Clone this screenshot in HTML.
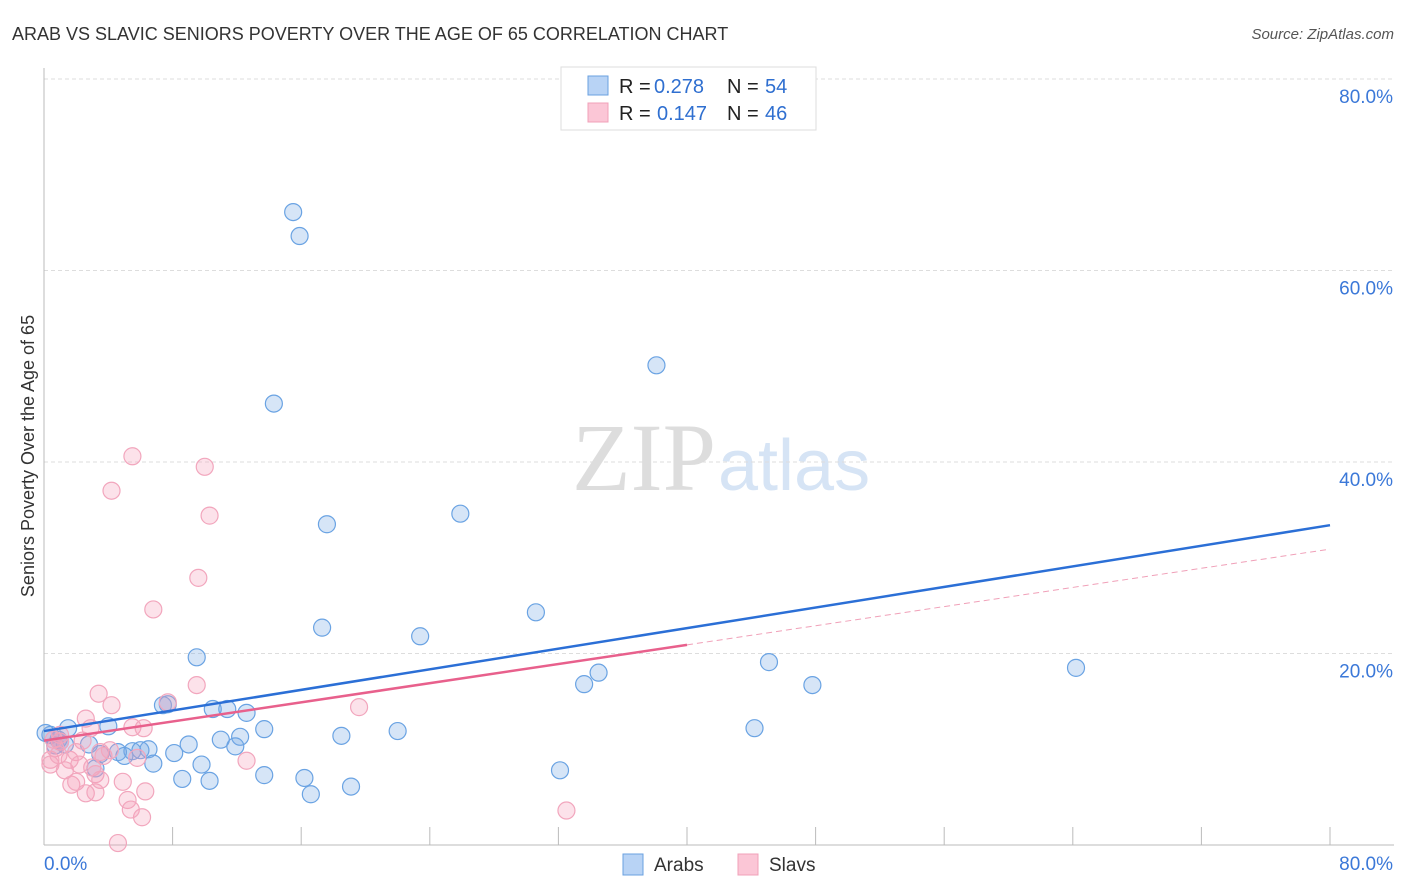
<!DOCTYPE html>
<html><head><meta charset="utf-8"><style>
body{margin:0;background:#fff;font-family:"Liberation Sans",sans-serif}
svg{display:block}
</style></head><body>
<svg id="c" width="1406" height="892" xmlns="http://www.w3.org/2000/svg">
<text x="12" y="40" font-size="18" fill="#333">ARAB VS SLAVIC SENIORS POVERTY OVER THE AGE OF 65 CORRELATION CHART</text>
<text x="1394" y="39" font-size="15" fill="#555" font-style="italic" text-anchor="end">Source: ZipAtlas.com</text>
<text x="716" y="490" font-size="96" fill="#ddd" text-anchor="end" font-family="Liberation Serif">ZIP</text>
<text x="718" y="490" font-size="72" fill="#d6e4f5">atlas</text>
<text transform="translate(34,456) rotate(-90)" font-size="18" fill="#333" text-anchor="middle">Seniors Poverty Over the Age of 65</text>
<g id="grid"></g><g id="pts"></g><g id="lines"></g>
<g>
<rect x="561" y="67" width="255" height="63" fill="#fff" stroke="#ddd"/>
<rect x="588" y="76" width="20" height="19" fill="#b8d3f5" stroke="#6aa0e0"/>
<rect x="588" y="103" width="20" height="19" fill="#fbc6d6" stroke="#f0a0b8"/>
<text x="619" y="93" font-size="20" fill="#222">R =</text>
<text x="654" y="93" font-size="20" fill="#2f6fd0">0.278</text>
<text x="727" y="93" font-size="20" fill="#222">N =</text>
<text x="765" y="93" font-size="20" fill="#2f6fd0">54</text>
<text x="619" y="120" font-size="20" fill="#222">R =</text>
<text x="657" y="120" font-size="20" fill="#2f6fd0">0.147</text>
<text x="727" y="120" font-size="20" fill="#222">N =</text>
<text x="765" y="120" font-size="20" fill="#2f6fd0">46</text>
</g>
<g>
<rect x="623" y="854" width="20" height="21" fill="#b8d3f5" stroke="#6aa0e0"/>
<text x="654" y="871" font-size="19" fill="#333">Arabs</text>
<rect x="738" y="854" width="20" height="21" fill="#fbc6d6" stroke="#f0a0b8"/>
<text x="769" y="871" font-size="19" fill="#333">Slavs</text>
</g>
</svg>
<script>
const xTicks=[0,8,16,24,32,40,48,56,64,72,80];
const yTicks=[20,40,60,80];
const yTickLabels=["20.0%","40.0%","60.0%","80.0%"];
const arabX=[15.5,15.9,14.3,38.1,17.6,25.9,30.6,17.3,23.4,9.5,45.1,64.2,34.5,33.6,47.8,7.4,7.7,10.5,11.4,12.6,13.7,4.0,1.5,44.2,22.0,18.5,12.2,11.0,9.0,11.9,2.8,0.9,0.4,0.7,6.5,5.5,4.6,3.5,5.0,8.1,6.8,9.8,3.2,13.7,16.2,8.6,10.3,32.1,19.1,16.6,1.0,0.1,1.3,6.0];
const arabY=[66.1,63.6,46.1,50.1,33.5,34.6,24.3,22.7,21.8,19.6,19.1,18.5,18.0,16.8,16.7,14.6,14.7,14.2,14.2,13.8,12.1,12.4,12.2,12.2,11.9,11.4,11.3,11.0,10.5,10.3,10.5,11.0,11.5,10.4,10.0,9.8,9.7,9.5,9.3,9.6,8.5,8.4,8.0,7.3,7.0,6.9,6.7,7.8,6.1,5.3,10.8,11.7,10.5,9.9];
const slavX=[5.5,10.0,4.2,10.3,9.6,6.8,9.5,7.7,3.4,4.2,2.6,19.6,5.5,6.2,12.6,2.4,1.0,0.7,0.4,0.4,1.6,2.0,3.5,3.7,5.8,0.9,1.3,3.0,1.7,2.0,3.2,2.6,3.2,3.5,4.9,5.2,6.1,6.3,5.4,4.6,32.5,1.0,0.6,2.9,2.2,4.1];
const slavY=[40.6,39.5,37.0,34.4,27.9,24.6,16.7,14.9,15.8,14.6,13.2,14.4,12.3,12.2,8.8,10.9,10.8,10.1,8.9,8.4,8.9,9.7,9.7,9.3,9.1,9.4,7.8,8.1,6.3,6.6,7.4,5.4,5.5,6.8,6.6,4.7,2.9,5.6,3.7,0.2,3.6,11.5,11.0,12.2,8.4,9.9];
const arabTrend=[11.9,33.4];
const slavTrend=[10.9,30.9];
const slavSolidEnd=40;
const NS="http://www.w3.org/2000/svg";
const sx=v=>44+v*16.075, sy=v=>845-v*9.575;
function mk(tag,attrs,parent){const e=document.createElementNS(NS,tag);for(const k in attrs)e.setAttribute(k,attrs[k]);parent.appendChild(e);return e;}
const grid=document.getElementById('grid');
yTicks.forEach((t,i)=>{
 const l=mk('line',{x1:44,x2:1394,y1:sy(t),y2:sy(t),stroke:'#ddd','stroke-dasharray':'4,3'},grid);
 
 
 const tx=mk('text',{x:1393,y:sy(t)+24,'font-size':19,fill:'#3b78d8','text-anchor':'end'},grid);
 tx.textContent=yTickLabels[i];
 
 
});
let ax=mk('line',{x1:44,x2:44,y1:68,y2:845,stroke:'#bbb'},grid);


ax=mk('line',{x1:44,x2:1394,y1:845,y2:845,stroke:'#bbb'},grid);


xTicks.forEach(t=>{
 const l=mk('line',{x1:sx(t),x2:sx(t),y1:827,y2:845,stroke:'#bbb'},grid);
 
 
});
[[0,"0.0%","start",44],[80,"80.0%","end",1393]].forEach(a=>{
 const tx=mk('text',{x:a[3],y:870,'font-size':19,fill:'#3b78d8','text-anchor':a[2]},grid);
 tx.textContent=a[1];
 
 
});
const pts=document.getElementById('pts');
arabX.forEach((x,i)=>{
 const c=mk('circle',{cx:sx(x),cy:sy(arabY[i]),r:8.5,fill:'rgba(120,170,230,0.3)',stroke:'#6aa3e3','stroke-width':1.2},pts);
 
 
});
slavX.forEach((x,i)=>{
 const c=mk('circle',{cx:sx(x),cy:sy(slavY[i]),r:8.5,fill:'rgba(245,160,185,0.3)',stroke:'#f2a6bd','stroke-width':1.2},pts);
 
 
});
const lines=document.getElementById('lines');
let ln=mk('line',{x1:sx(0),y1:sy(arabTrend[0]),x2:sx(80),y2:sy(arabTrend[1]),stroke:'#2b6fd6','stroke-width':2.5},lines);


const sm=slavTrend[0]+(slavTrend[1]-slavTrend[0])*slavSolidEnd/80;
ln=mk('line',{x1:sx(0),y1:sy(slavTrend[0]),x2:sx(slavSolidEnd),y2:sy(sm),stroke:'#e8608c','stroke-width':2.5},lines);


ln=mk('line',{x1:sx(slavSolidEnd),y1:sy(sm),x2:sx(80),y2:sy(slavTrend[1]),stroke:'#f0a0b8','stroke-width':1,'stroke-dasharray':'6,4'},lines);


</script>
</body></html>
